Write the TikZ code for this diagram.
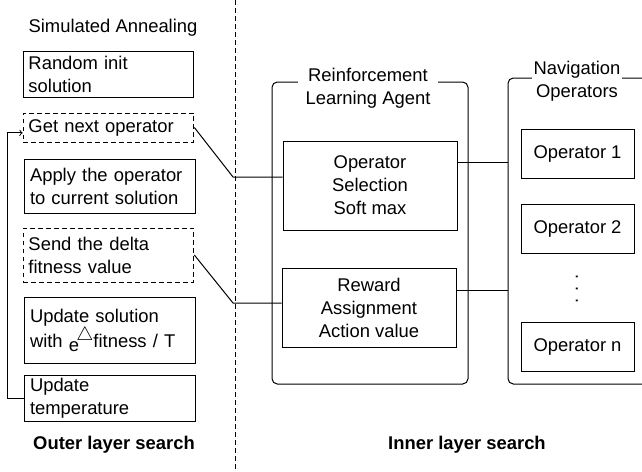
\documentclass[tikz,border=0pt]{standalone}
\usepackage{fontspec}
\setmainfont{Liberation Sans}
\usetikzlibrary{calc}

\tikzset{
  sabox/.style={draw, text width=120pt, inner xsep=4pt, inner ysep=0pt, align=left},
  sadash/.style={sabox, dash pattern=on 3.5pt off 2.5pt},
  rlbox/.style={draw, minimum width=130.5pt, inner ysep=0pt, align=center},
  opbox/.style={draw, minimum width=84.75pt, minimum height=36.75pt},
  frame/.style={draw, rounded corners=4pt},
  frametitle/.style={fill=white, inner xsep=1pt, inner ysep=0pt, align=center},
}

\begin{document}
\fontsize{13.8}{17.2}\selectfont
\begin{tikzpicture}[x=0.75pt, y=-0.75pt, line width=0.75pt]
\useasboundingbox (0,0) rectangle (642,471);
\clip (0,0) rectangle (642,471);

\draw [dash pattern=on 3.5pt off 2.5pt] (235,0) -- (235,471);
%
\node [anchor=base west] at (22,32) (satitle) {Simulated Annealing};
\node [sabox, minimum height=34.5pt] at (108.5,74.5) (init) {Random init\\solution};
\node [sadash, minimum height=21.75pt] at (108.5,127.5) (getop) {Get next operator};
\node [sabox, minimum height=40.5pt] at (110,186) (apply) {Apply the operator\\to current solution};
\node [sadash, minimum height=40.5pt] at (108.5,255) (send) {Send the delta\\fitness value};
\node [sabox, minimum height=49.5pt] at (110,330) (update) {Update solution\\with \raisebox{-3pt}{e}\hspace{-2pt}\raisebox{5pt}{$\triangle$}fitness / T};
\node [sabox, minimum height=34.5pt] at (110,398) (temp) {Update\\temperature};
\node [font=\bfseries] at (114,445) (outer) {Outer layer search};
%
\node [frame, minimum width=147pt, minimum height=226.5pt] at (370,233) (agent) {};
\node [frametitle, minimum width=105pt] at (368,88) (agenttitle) {Reinforcement\\Learning Agent};
\node [rlbox, minimum height=66.75pt] at (370,185.5) (opsel) {Operator\\Selection\\Soft max};
\node [rlbox, minimum height=59.25pt] at (369,307.5) (reward) {Reward\\Assignment\\Action value};
%
\node [frame, minimum width=114pt, minimum height=229.5pt] at (584,231) (nav) {};
\node [frametitle, minimum width=66pt] at (577,81) (navtitle) {Navigation\\Operators};
\node [opbox] at (577.5,153.5) (op1) {Operator 1};
\node [opbox] at (577.5,229) (op2) {Operator 2};
\node [rotate=90] at (577,289) (dots) {. . .};
\node [opbox] at (577.5,346.5) (opn) {Operator n};
\node [font=\bfseries] at (467,445) (inner) {Inner layer search};
%
\coordinate (selin) at (233,177);
\coordinate (rewin) at (233,303);
\coordinate (selout) at (0,162);
\coordinate (rewout) at (0,290);
\draw (getop.east) -- (selin) -- (selin -| opsel.west);
\draw (send.east) -- (rewin) -- (rewin -| reward.west);
\draw (opsel.east |- selout) -- (nav.west |- selout);
\draw (reward.east |- rewout) -- (nav.west |- rewout);
\draw [->] (temp.west) -- ++(-17,0) |- ([yshift=-4pt]getop.west);
\end{tikzpicture}
\end{document}
